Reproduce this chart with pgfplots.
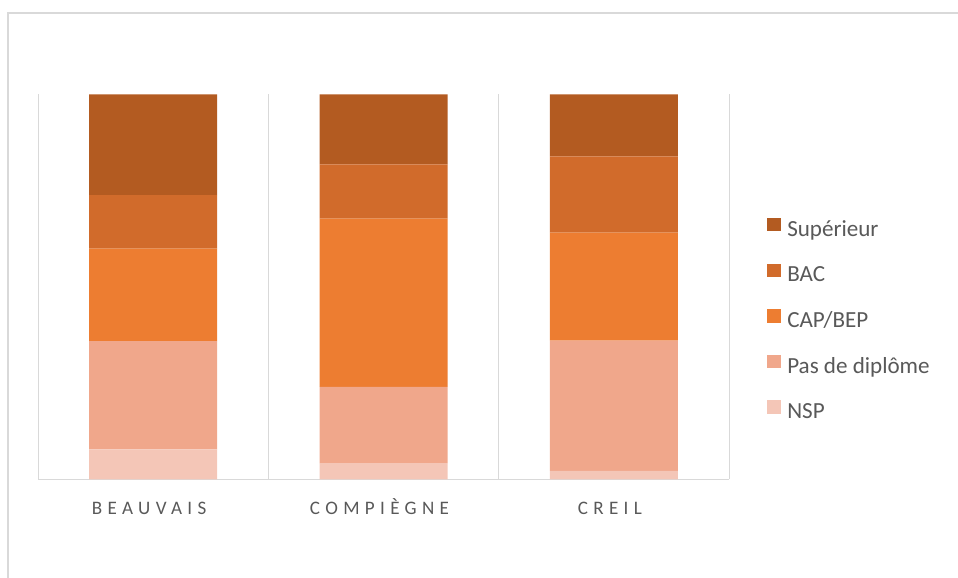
\documentclass[border=0pt]{standalone}
\usepackage{fontspec}
\setmainfont{Carlito}
\newfontfamily\catfont[LetterSpace=28]{Carlito}
\usepackage{pgfplots}
\pgfplotsset{compat=1.18}
\definecolor{supcol}{HTML}{B35B21}
\definecolor{baccol}{HTML}{D16B2B}
\definecolor{capcol}{HTML}{ED7D31}
\definecolor{pascol}{HTML}{F0A78B}
\definecolor{nspcol}{HTML}{F4C6B7}
\definecolor{gridgray}{HTML}{D9D9D9}
\definecolor{textgray}{HTML}{595959}

\begin{document}
\begin{tikzpicture}
\useasboundingbox (0pt,0pt) rectangle (718.5pt,433.5pt);
\draw[gridgray, line width=1.5pt] (6pt,-20pt) -- (6pt,423.75pt) -- (740pt,423.75pt);
\begin{axis}[
  at={(28.5pt,74.0pt)}, anchor=south west,
  scale only axis, width=518.25pt, height=288.75pt,
  ybar stacked, bar width=96pt,
  xmin=-0.5, xmax=2.5, ymin=0, ymax=100,
  xtick={0,1,2}, xticklabels={BEAUVAIS,COMPIÈGNE,CREIL},
  minor xtick={-0.5,0.5,1.5,2.5}, xminorgrids=true,
  minor grid style={gridgray, line width=0.75pt},
  major tick length=0pt, minor tick length=0pt,
  ytick=\empty,
  axis x line*=bottom, axis y line=none,
  x axis line style={draw=gridgray, line width=0.75pt, -},
  xticklabel style={font=\catfont\fontsize{14.3}{16}\selectfont, text=textgray,
    text height=10pt, text depth=0pt, inner sep=0pt, yshift=-16.5pt, xshift=-3pt},
  reverse legend,
  legend style={at={(1.055,0.413)}, anchor=west, draw=none, inner sep=0pt,
    font=\fontsize{17.3}{18}\selectfont, text=textgray,
    nodes={inner sep=0pt, text height=11pt, text depth=3pt},
    row sep=17.5pt, column sep=5pt},
  legend cell align=left,
  legend image code/.code={\fill[#1, draw=none] (0pt,-0.3pt) rectangle (10pt,9.7pt);},
]
\addplot[fill=nspcol, draw=none] coordinates {(0,7.8) (1,4.2) (2,2.2)};
\addplot[fill=pascol, draw=none] coordinates {(0,28.1) (1,19.8) (2,33.8)};
\addplot[fill=capcol, draw=none] coordinates {(0,24.0) (1,43.7) (2,28.1)};
\addplot[fill=baccol, draw=none] coordinates {(0,13.9) (1,14.1) (2,19.8)};
\addplot[fill=supcol, draw=none] coordinates {(0,26.2) (1,18.2) (2,16.1)};
\legend{NSP, Pas de diplôme, CAP/BEP, BAC, Supérieur}
\end{axis}
\end{tikzpicture}
\end{document}
